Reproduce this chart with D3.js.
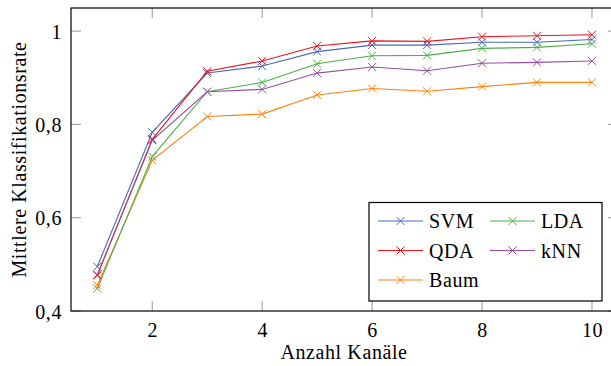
<!DOCTYPE html>
<html>
<head>
<meta charset="utf-8">
<script src="https://cdn.jsdelivr.net/npm/d3@7"></script>
<style>
html,body{margin:0;padding:0;background:#fff;}
svg{display:block;}
text{font-family:"Liberation Serif","DejaVu Serif",serif;fill:#000;letter-spacing:0.6px;}
</style>
</head>
<body>
<svg id="chart" width="611" height="366"></svg>
<script>
const channels = [1,2,3,4,5,6,7,8,9,10];
const seriesNames = ["SVM","QDA","Baum","LDA","kNN"];
const svmValues  = [0.495,0.783,0.910,0.925,0.956,0.970,0.970,0.976,0.976,0.982];
const qdaValues  = [0.476,0.768,0.914,0.936,0.968,0.979,0.978,0.988,0.990,0.992];
const baumValues = [0.455,0.723,0.817,0.822,0.863,0.877,0.871,0.881,0.890,0.890];
const ldaValues  = [0.448,0.731,0.870,0.890,0.930,0.947,0.948,0.963,0.965,0.973];
const knnValues  = [0.478,0.766,0.870,0.875,0.910,0.923,0.915,0.931,0.933,0.936];
const seriesColors = ["#4a69b4","#e8151b","#ff7f0e","#4daf4a","#984ea3"];
const xTicks = [2,4,6,8,10];
const yTicks = [0.4,0.6,0.8,1];
const xLabel = "Anzahl Kanäle";
const yLabel = "Mittlere Klassifikationsrate";

const series = [svmValues,qdaValues,baumValues,ldaValues,knnValues].map((v,i)=>({
  name: seriesNames[i], color: seriesColors[i], values: v.map((yv,j)=>({x:channels[j], y:yv}))
}));

const svg = d3.select("#chart");
const pL = 71, pR = 618, pT = 8, pB = 311;
const x = d3.scaleLinear().domain([0.522,10.473]).range([pL,pR]);
const y = d3.scaleLinear().domain([0.4,1.0495]).range([pB,pT]);
const fs = 20;
const tickColor = "#999";
const tickLen = 10;

const xa = d3.axisBottom(x).tickValues(xTicks).tickSize(0).tickFormat(d=>d);
const gX = svg.append("g").attr("transform",`translate(0,${pB})`).call(xa);
gX.select(".domain").remove();
gX.selectAll("text").attr("dy",null).attr("y",26).style("font-size",fs+"px").style("font-family",'"Liberation Serif",serif');
const ya = d3.axisLeft(y).tickValues(yTicks).tickSize(0).tickFormat(d=>d===1?"1":d3.format(".1f")(d).replace(".",","));
const gY = svg.append("g").attr("transform",`translate(${pL},0)`).call(ya);
gY.select(".domain").remove();
gY.selectAll("text").attr("x",-9).attr("dy","0.35em").style("font-size",fs+"px").style("font-family",'"Liberation Serif",serif');

const ticks = svg.append("g").attr("stroke",tickColor).attr("stroke-width",1);
xTicks.forEach(t=>{
  ticks.append("line").attr("x1",x(t)).attr("x2",x(t)).attr("y1",pB).attr("y2",pB-tickLen);
  ticks.append("line").attr("x1",x(t)).attr("x2",x(t)).attr("y1",pT).attr("y2",pT+tickLen);
});
yTicks.forEach(t=>{
  ticks.append("line").attr("y1",y(t)).attr("y2",y(t)).attr("x1",pL).attr("x2",pL+tickLen);
  ticks.append("line").attr("y1",y(t)).attr("y2",y(t)).attr("x1",pR).attr("x2",pR-tickLen);
});

const line = d3.line().x(d=>x(d.x)).y(d=>y(d.y));
const plot = svg.append("g");
const m = 4;
function cross(g, cx, cy, color){
  g.append("path").attr("d",`M${cx-m},${cy-m}L${cx+m},${cy+m}M${cx-m},${cy+m}L${cx+m},${cy-m}`)
   .attr("stroke",color).attr("stroke-width",1).attr("fill","none");
}
series.forEach(s=>{
  plot.append("path").datum(s.values).attr("d",line).attr("fill","none")
    .attr("stroke",s.color).attr("stroke-width",1.1);
});
series.forEach(s=>{
  s.values.forEach(d=>cross(plot, x(d.x), y(d.y), s.color));
});

svg.append("rect").attr("x",pL).attr("y",pT).attr("width",pR-pL).attr("height",pB-pT)
  .attr("fill","none").attr("stroke","#000").attr("stroke-width",1.2);

const lg = svg.append("g");
lg.append("rect").attr("x",369).attr("y",202.5).attr("width",233).attr("height",98.5)
  .attr("fill","#fff").attr("stroke","#000").attr("stroke-width",1.2);
const legendOrder = [[0,0,0],[3,1,0],[1,0,1],[4,1,1],[2,0,2]];
legendOrder.forEach(([si,col,row])=>{
  const s = series[si];
  const lx = col===0 ? 378 : 490;
  const ly = 221 + row*29.5;
  lg.append("line").attr("x1",lx).attr("x2",lx+45).attr("y1",ly).attr("y2",ly).attr("stroke",s.color).attr("stroke-width",1.1);
  cross(lg, lx+22.5, ly, s.color);
  lg.append("text").attr("x",lx+51).attr("y",ly).attr("dy","0.35em").style("font-size",fs+"px").text(s.name);
});

svg.append("text").attr("x",344).attr("y",359).attr("text-anchor","middle").style("font-size",fs+"px").text(xLabel);
svg.append("text").attr("transform",`translate(26,${(pT+pB)/2}) rotate(-90)`).attr("text-anchor","middle").style("font-size",fs+"px").text(yLabel);
</script>
</body>
</html>
